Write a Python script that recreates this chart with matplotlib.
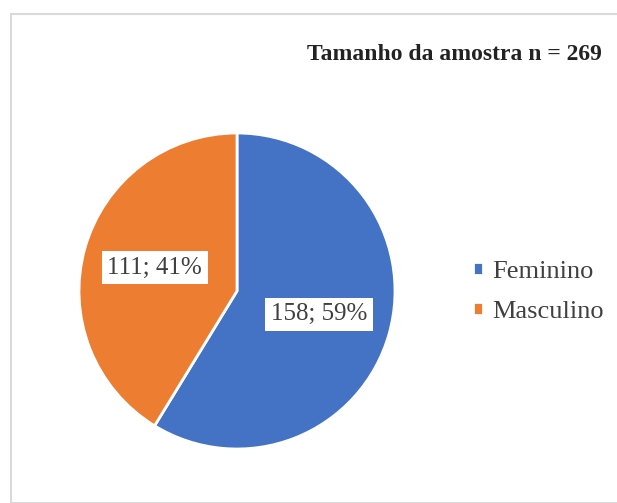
import matplotlib.pyplot as plt
from matplotlib.patches import Rectangle

# Data
categories = ['Feminino', 'Masculino']
counts = [158, 111]
colors = ['#4472C4', '#ED7D31']
sample_size = 269

plt.rcParams['font.family'] = ['Liberation Serif', 'DejaVu Serif']

fig = plt.figure(figsize=(6.17, 5.03), dpi=100)

# light frame like the original chart border
fig.patches.append(Rectangle((11 / 617, 0), 1.0, 1 - 14 / 503, transform=fig.transFigure,
                             fill=False, edgecolor='#d9d9d9', linewidth=1.5))

ax = fig.add_axes([79 / 617, 54 / 503, 316 / 617, 316 / 503])
total = sum(counts)
wedges, texts, autotexts = ax.pie(
    counts, colors=colors, startangle=90, counterclock=False,
    wedgeprops=dict(edgecolor='white', linewidth=2),
    autopct=lambda p: f'{round(p * total / 100)}; {p:.0f}%',
    pctdistance=0.54, textprops=dict(fontsize=18, color='#404040'))
for t in autotexts:
    t.set_bbox(dict(facecolor='white', edgecolor='none', pad=4))
ax.set_xlim(-1.0, 1.0)
ax.set_ylim(-1.0, 1.0)
ax.set_aspect('equal')

fig.text(454 / 617, 1 - 55 / 503, f'Tamanho da amostra n = {sample_size}',
         ha='center', va='center', fontsize=17, fontweight='bold', color='#222222')

fig.legend(wedges, categories, loc='center left', bbox_to_anchor=(449 / 617, 1 - 292 / 503),
           frameon=False, fontsize=19, handlelength=0.4, handleheight=0.4,
           handletextpad=0.35, labelspacing=0.7, labelcolor='#404040')

fig.savefig('out.png', dpi=100)
